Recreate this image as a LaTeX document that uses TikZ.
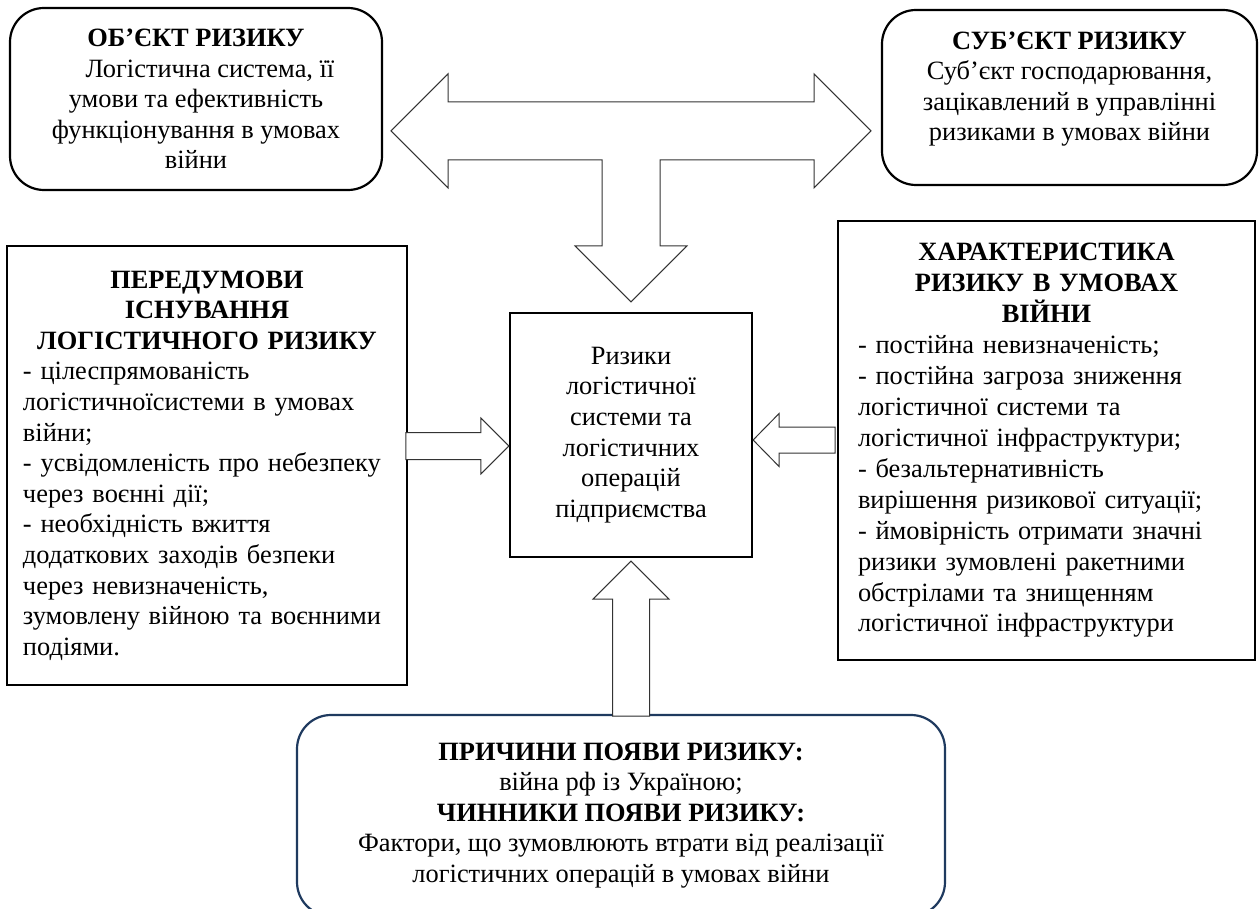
\documentclass[tikz,border=0pt]{standalone}
\usepackage{fontspec}
\setmainfont{Liberation Serif}
\usepackage{tikz}
\usepackage{xcolor}
\definecolor{frameblue}{HTML}{1F3A5F}

\tikzset{
  roundbox/.style={draw=black, line width=1.1pt, rounded corners=17pt, fill=white,
                   align=center, inner sep=0pt},
  plainbox/.style={draw=black, line width=1.1pt, fill=white, inner sep=0pt},
  hollow/.style={draw=black!80, line width=0.5pt, fill=white, line join=miter}
}

\begin{document}
\begin{tikzpicture}[x=0.5pt, y=-0.5pt, font=\fontsize{13.2}{15.3}\selectfont]
    \useasboundingbox[fill=white] (0,0) rectangle (1259,909);

    \node[roundbox, minimum width=186pt, minimum height=91pt] (obj) at (196,99) {
      {\bfseries ОБ’ЄКТ РИЗИКУ}\\
      \hspace*{14pt}Логістична система, її\\
      умови та ефективність\\
      функціонування в умовах\\
      війни
    };
    \node[roundbox, minimum width=187.5pt, minimum height=87.5pt] (subj) at (1069.5,97.5) {
      {\bfseries СУБ’ЄКТ РИЗИКУ}\\
      Суб’єкт господарювання,\\
      зацікавлений в управлінні\\
      ризиками в умовах війни\\[-4pt]
    };
    \node[plainbox, align=center, minimum width=121pt, minimum height=122pt] (risk) at (631,435) {
      Ризики\\
      логістичної\\
      системи та\\
      логістичних\\
      операцій\\
      підприємства
    };
    \node[plainbox, align=left, text width=184pt, minimum width=200pt,
          minimum height=219.5pt] (prereq) at (207,465.5) {
      {\centering\bfseries ПЕРЕДУМОВИ\\ ІСНУВАННЯ\\ ЛОГІСТИЧНОГО РИЗИКУ\par}
      \raggedright
      - цілеспрямованість\\
      логістичноїсистеми в умовах\\
      війни;\\
      - усвідомленість про небезпеку\\
      через воєнні дії;\\
      - необхідність вжиття\\
      додаткових заходів безпеки\\
      через невизначеність,\\
      зумовлену війною та воєнними\\
      подіями.
    };
    \node[plainbox, align=left, text width=188.5pt, minimum width=208.5pt,
          minimum height=219.5pt] (charact) at (1046.5,440.5) {
      {\centering\bfseries ХАРАКТЕРИСТИКА\\ РИЗИКУ В УМОВАХ\\ ВІЙНИ\par}
      \raggedright\fontsize{13.2}{15.5}\selectfont
      - постійна невизначеність;\\
      - постійна загроза зниження\\
      логістичної системи та\\
      логістичної інфраструктури;\\
      - безальтернативність\\
      вирішення ризикової ситуації;\\
      - ймовірність отримати значні\\
      ризики зумовлені ракетними\\
      обстрілами та знищенням\\
      логістичної інфраструктури
    };
    \node[roundbox, draw=frameblue, minimum width=324pt, minimum height=100.5pt] (causes) at (621,815.5) {
      {\bfseries ПРИЧИНИ ПОЯВИ РИЗИКУ:}\\
      війна рф із Україною;\\
      {\bfseries ЧИННИКИ ПОЯВИ РИЗИКУ:}\\
      Фактори, що зумовлюють втрати від реалізації\\
      логістичних операцій в умовах війни
    };

    % block arrows
    \coordinate (dtip) at ([yshift=5pt]risk.north);
    \coordinate (ltip) at ([yshift=-5.5pt]risk.west);
    \coordinate (rtip) at ([yshift=-2.5pt]risk.east);
    \coordinate (utip) at ([yshift=-1.5pt]risk.south);

    \draw[hollow] (dtip) -- ++(56,-56) -- ++(-27,0) -- ++(0,-86) -- ++(154,0)
      -- ++(0,28) -- ++(57,-57) -- ++(-57,-57) -- ++(0,28) -- ++(-366,0)
      -- ++(0,-28) -- ++(-57,57) -- ++(57,57) -- ++(0,-28) -- ++(154,0)
      -- ++(0,86) -- ++(-27,0) -- cycle;
    \draw[hollow] (ltip) -- ++(-28,-28) -- ++(0,14.5) -- ++(-75,0) -- ++(0,27)
      -- ++(75,0) -- ++(0,14.5) -- cycle;
    \draw[hollow] (rtip) -- ++(26,-26.5) -- ++(0,13.5) -- ++(56,0) -- ++(0,26)
      -- ++(-56,0) -- ++(0,13.5) -- cycle;
    \draw[hollow] (utip) -- ++(38,38) -- ++(-19.5,0) -- ++(0,117) -- ++(-37,0)
      -- ++(0,-117) -- ++(-19.5,0) -- cycle;
  \end{tikzpicture}
\end{document}
